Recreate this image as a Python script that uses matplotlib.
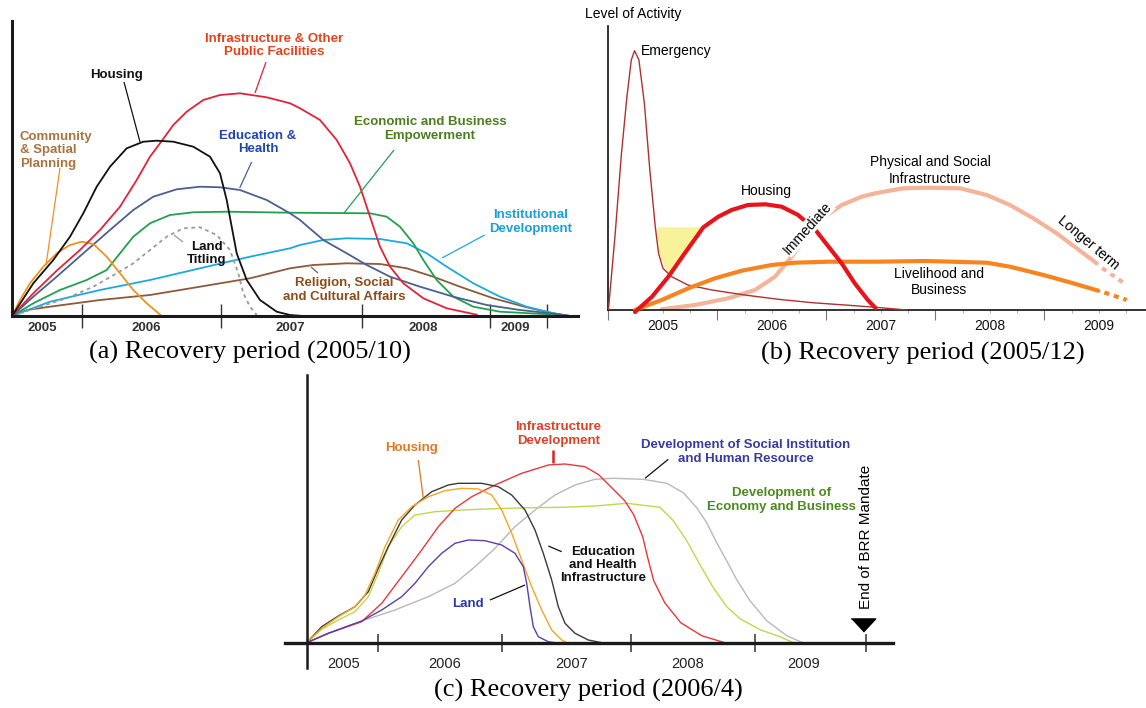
import numpy as np
import matplotlib.pyplot as plt

plt.rcParams['font.family'] = ['Liberation Sans', 'DejaVu Sans']
plt.rcParams['lines.solid_joinstyle'] = 'round'

W, H = 1146, 708

# ---------------- panel (a): recovery period 2005/10 ----------------
a_tick_pos = [70, 209, 350, 478, 535]
a_year_pos = [30, 134, 278, 411, 503]
a_years = ['2005', '2006', '2007', '2008', '2009']

a_infra_x = [0, 21.3, 44.7, 68, 88, 108, 124.7, 138, 149.7, 161.3, 174.7, 191.3, 208, 228, 254.7, 278,
             288, 308, 324.7, 338, 348, 354.7, 361.3, 368, 378, 391.3, 411.3, 434.7, 464.7]
a_infra_y = [0, 22.7, 45.3, 66, 86, 109.3, 136, 159.3, 175, 191, 204.3, 216, 221, 222.7, 218.7, 212.7,
             207.7, 196, 176, 152.7, 129.3, 109.3, 89.3, 69.3, 49.3, 32.7, 17.7, 7.7, 1.3]
a_house_x = [0, 21.3, 41.3, 58, 71.3, 84.7, 98, 114.7, 131.3, 144.7, 161.3, 181.3, 198, 208, 214.7,
             219.7, 224.7, 234.7, 248, 264.7, 278, 291]
a_house_y = [0, 32.7, 56, 79.3, 102.7, 129.3, 149.3, 167.7, 174.3, 175.3, 174.3, 169.3, 159.3, 142.7, 116,
             89.3, 62.7, 36, 16, 4.3, 1, 0]
a_edu_x = [0, 21.3, 44.7, 71.3, 98, 121.3, 141.3, 164.7, 188, 208, 228, 254.7, 278, 288, 311.3, 334.7,
           354.7, 378, 408, 441.3, 474.7, 508, 544.7, 558]
a_edu_y = [0, 19.3, 39.3, 62.7, 86, 106, 119.3, 126.7, 129.3, 128.7, 126, 116, 102.7, 96, 76, 62.7,
           51, 39.3, 29.3, 19.3, 11, 6, 2, 0]
a_econ_x = [0, 21.3, 48, 74.7, 94.7, 108, 121.3, 138, 158, 181.3, 214.7, 278, 358, 374.7, 388, 401.3,
            411.3, 424.7, 441.3, 461.3, 488, 518, 544.7, 558]
a_econ_y = [0, 12.7, 26, 36, 46, 62.7, 79.3, 92.7, 101, 103.7, 104.3, 103.3, 102.7, 99.3, 89.3, 72.7,
            56, 36, 19.3, 9.3, 4.3, 2.7, 1.3, 0]
a_inst_x = [0, 38, 88, 138, 188, 238, 278, 288, 311.3, 334.7, 368, 394.7, 414.7, 434.7, 461.3, 488,
            514.7, 541.3, 558]
a_inst_y = [0, 14.3, 26, 36, 47.7, 59.3, 67.7, 71, 76, 77.7, 77, 72.7, 62.7, 49.3, 32.7, 19.3,
            9.3, 2.7, 0]
a_relig_x = [0, 15, 38, 88, 138, 188, 238, 278, 301.3, 334.7, 368, 394.7, 421.3, 448, 481.3, 514.7, 541.3, 558]
a_relig_y = [0, 6, 9.3, 16, 21, 29.3, 37.7, 47.7, 51, 52.7, 52, 47.7, 39.3, 29.3, 17.7, 8.7, 2.7, 0]
a_comm_x = [0, 8, 18, 31.3, 44.7, 58, 69.7, 81.3, 94.7, 108, 121.3, 134.7, 149.7]
a_comm_y = [0, 16, 32.7, 49.3, 62.7, 71, 74.3, 72, 59.3, 42.7, 26, 12.7, 0]
a_land_x = [0, 28, 54.7, 81.3, 104.7, 121.3, 138, 154.7, 171.3, 188, 204.7, 218, 226.3, 231.3, 238, 244.7]
a_land_y = [0, 9.3, 17.7, 29.3, 42.7, 52.7, 66, 79.3, 87.7, 88.7, 81, 66, 42.7, 22.7, 9.3, 1]

# ---------------- panel (b): recovery period 2005/12 ----------------
b_years = [2005, 2006, 2007, 2008, 2009]
b_emerg_year = [2005.0, 2005.06, 2005.12, 2005.17, 2005.21, 2005.24, 2005.28, 2005.33, 2005.38, 2005.43,
                2005.46, 2005.50, 2005.58, 2005.73, 2005.95, 2006.25, 2006.56, 2006.87, 2007.17, 2007.45, 2007.74]
b_emerg_lvl = [0, 73.3, 156.7, 213.3, 250, 259.3, 250, 206.7, 140, 83.3,
               56.7, 41.7, 33.3, 25, 20, 15, 10.7, 7.3, 5, 2.7, 0]
b_house_year = [2005.244, 2005.40, 2005.55, 2005.70, 2005.871, 2006.008, 2006.13, 2006.28, 2006.44,
                2006.59, 2006.74, 2006.90, 2007.02, 2007.14, 2007.26, 2007.38, 2007.45]
b_house_lvl = [-2, 13.3, 33.3, 56.7, 82.7, 93.3, 100, 105, 105.7, 103.3, 95, 80, 63.3, 46.7, 26.7, 10, 2]
b_phys_year = [2005.489, 2005.794, 2006.100, 2006.345, 2006.528, 2006.682, 2006.834, 2006.987, 2007.140,
               2007.324, 2007.446, 2007.706, 2007.920, 2008.226, 2008.471, 2008.684, 2008.898, 2009.113,
               2009.296, 2009.480]
b_phys_lvl = [0.7, 5, 11.7, 20, 33.3, 53.3, 76.7, 93.3, 105, 113.3, 116.7, 121.7, 122.3, 121.7, 115, 105,
              91.7, 76.7, 61.7, 46.7]
b_phys_dash_year = [2009.53, 2009.755]
b_phys_dash_lvl = [42, 25]
b_live_year = [2005.244, 2005.489, 2005.733, 2005.978, 2006.223, 2006.498, 2006.712, 2007.017, 2007.446,
               2007.920, 2008.471, 2008.684, 2008.990, 2009.265, 2009.494]
b_live_lvl = [0, 10, 21.7, 31.7, 39.3, 45, 47.3, 48.3, 48.3, 49, 47.3, 43.3, 35, 26.7, 19.3]
b_live_dash_year = [2009.55, 2009.755]
b_live_dash_lvl = [17.5, 10]
b_gap_year = [2005.443, 2005.871, 2005.70, 2005.544, 2005.465]
b_gap_lvl = [82.7, 82.7, 56.7, 36.7, 56.7]

# ---------------- panel (c): recovery period 2006/4 ----------------
c_tick_pos = [71.6, 195, 324.3, 448.3, 559]
c_year_pos = [37, 138.3, 264.8, 380.9, 497.3]
c_years = ['2005', '2006', '2007', '2008', '2009']

c_house_x = [0, 15, 31.6, 48.3, 58.3, 68.3, 78.3, 91.6, 105, 121.6, 138.3, 155, 171.6, 185, 195, 205,
             215, 225, 235, 245, 255, 260]
c_house_y = [0, 14.3, 26, 36, 47.7, 69.4, 96, 122.7, 136, 146, 152, 154.4, 153.7, 147.7, 132.7, 109.4,
             82.7, 56, 32.7, 12.7, 2.7, 0]
c_edu_x = [0, 15, 31.6, 48.3, 61.6, 71.6, 81.6, 95, 108.3, 125, 141.6, 151.6, 175, 191.6, 205, 218.3,
           228.3, 236.6, 245, 251.6, 258.3, 268.3, 281.6, 295]
c_edu_y = [0, 16, 26.7, 36, 51, 74.4, 96, 122.7, 137.7, 151, 157.7, 159.4, 159.4, 156, 147.7, 132.7,
           112.7, 89.4, 62.7, 36, 19.4, 9.4, 2.7, 0]
c_econ_x = [0, 15, 31.6, 48.3, 61.6, 71.6, 81.6, 95, 108.3, 128.3, 155, 188.3, 221.6, 255, 288.3, 320,
            353.3, 366.6, 380, 393.3, 406.6, 420, 433.3, 453.3, 473.3, 486.6]
c_econ_y = [0, 13.4, 22.7, 31, 46, 69.4, 96, 116, 127.7, 131, 132.7, 134, 135, 135.4, 136.7, 139.4,
            135.4, 122, 102, 78, 55, 36, 24, 13, 6, 0]
c_infra_x = [0, 21.6, 55, 75, 95, 115, 131.6, 148.3, 165, 188.3, 215, 241.6, 258.3, 278.3, 292, 310,
             318, 327, 336, 341, 347, 358, 374, 395, 418]
c_infra_y = [0, 9.4, 21, 39.4, 66, 92.7, 116, 134.4, 146, 157.7, 169.4, 177.7, 178.7, 176, 168, 150,
             142, 128, 106, 85, 62, 40, 20, 7, 0]
c_social_x = [0, 21.6, 55, 88.3, 121.6, 148.3, 168.3, 188.3, 208.3, 228.3, 248.3, 268.3, 288.3, 306.6,
              336.6, 360, 376.6, 390, 400, 410, 420, 430, 443.3, 460, 480, 496]
c_social_y = [0, 9.4, 21.7, 32.7, 46, 59.4, 76, 94.4, 116, 132.7, 147.7, 157.7, 163.4, 164.4,
              163.4, 159.4, 150, 135, 120, 100, 82, 63, 42, 22, 7, 0]
c_land_x = [0, 21.6, 55, 75, 95, 108.3, 121.6, 135, 148.3, 161.6, 178.3, 195, 208.3, 216.6, 220, 223.3,
            226.6, 231.6, 241.6, 248.3]
c_land_y = [0, 9.4, 21.7, 32.7, 46, 59.4, 76, 89.4, 99.4, 102.7, 102, 97.7, 89.4, 76, 59.4, 36,
            16, 6, 1, 0]
c_mandate_x = [556]
c_mandate_y = [17.7]

fig = plt.figure(figsize=(W / 100, H / 100), dpi=100)


def px_axes(left, top, right, bottom):
    ax = fig.add_axes([left / W, 1 - bottom / H, (right - left) / W, (bottom - top) / H])
    ax.set_facecolor('none')
    for s in ('top', 'right'):
        ax.spines[s].set_visible(False)
    ax.set_yticks([])
    return ax


def leader(ax, p0, p1, color, lw=0.9):
    ax.plot([p0[0], p1[0]], [p0[1], p1[1]], color=color, lw=lw, solid_capstyle='butt')


bold = dict(fontsize=9.5, fontweight='bold', ha='center', va='center', linespacing=1.15)
plain = dict(fontsize=10, ha='center', va='center', linespacing=1.25)

# ======================= (a) =======================
ax = px_axes(12, 21, 578, 316)
ax.set_xlim(0, 566)
ax.set_ylim(0, 295)
for s in ('left', 'bottom'):
    ax.spines[s].set_linewidth(2.2)
    ax.spines[s].set_color('#1a1a1a')
ax.set_xticks(a_tick_pos, [''] * len(a_tick_pos))
ax.set_xticks(a_year_pos, a_years, minor=True)
ax.tick_params(axis='x', which='major', direction='inout', length=17, width=1, color='#333333')
ax.tick_params(axis='x', which='minor', length=0, pad=4, labelsize=9.5, labelcolor='#333333')
for t in ax.get_xticklabels(minor=True):
    t.set_fontweight('bold')

lw_a = 1.3
ax.plot(a_relig_x, a_relig_y, color='#8c5a3c', lw=lw_a)
ax.plot(a_inst_x, a_inst_y, color='#1ea8e0', lw=lw_a)
ax.plot(a_land_x, a_land_y, color='#9a9a9a', lw=1.3, ls=(0, (2, 2)))
ax.plot(a_econ_x, a_econ_y, color='#22a050', lw=lw_a)
ax.plot(a_edu_x, a_edu_y, color='#4a6090', lw=lw_a)
ax.plot(a_comm_x, a_comm_y, color='#f0921e', lw=lw_a)
ax.plot(a_infra_x, a_infra_y, color='#e0243a', lw=lw_a)
ax.plot(a_house_x, a_house_y, color='#111111', lw=lw_a)

ax.text(262, 270.5, 'Infrastructure & Other\nPublic Facilities', color='#e8401c', **bold)
leader(ax, (254, 254), (243, 223), '#e0243a')
ax.text(104.5, 241, 'Housing', color='#111111', **bold)
leader(ax, (112, 234), (128, 174), '#111111')
ax.text(8, 165.5, 'Community\n& Spatial\nPlanning', color='#a87440',
        **{**bold, 'ha': 'left'})
leader(ax, (48, 148), (34, 51), '#f0921e')
ax.text(246, 173.5, 'Education &\nHealth', color='#1f45b0', **bold)
leader(ax, (239.6, 154), (227.7, 128), '#4a6090')
ax.text(418, 187, 'Economic and Business\nEmpowerment', color='#4a7f1e', **bold)
leader(ax, (382, 166), (332, 103), '#22a050')
ax.text(519, 94, 'Institutional\nDevelopment', color='#1a9fd8', **bold)
leader(ax, (472.7, 81), (430, 58), '#1ea8e0')
ax.text(195, 62.5, 'Land\nTitling', color='#111111', **bold)
leader(ax, (171, 74), (162, 81), '#9a9a9a')
ax.text(332, 26, 'Religion, Social\nand Cultural Affairs', color='#8a4e1e', **bold)
leader(ax, (306, 43), (299, 49), '#8c5a3c')

# ======================= (b) =======================
ax = px_axes(608.4, 26, 1146, 310)
ax.set_xlim(2005, 2005 + 537.6 / 109)
ax.set_ylim(0, 284)
for s in ('left', 'bottom'):
    ax.spines[s].set_linewidth(1.2)
    ax.spines[s].set_color('#111111')
quarters = np.arange(2005.25, 2010, 0.25)
quarters = quarters[quarters % 1 != 0]
ax.set_xticks(b_years, [''] * len(b_years))
ax.set_xticks(quarters, [str(int(q)) if q % 1 == 0.5 else '' for q in quarters], minor=True)
ax.tick_params(axis='x', which='major', direction='out', length=7, width=0.8, color='#777777')
ax.tick_params(axis='x', which='minor', direction='out', length=2.5, width=0.6, color='#999999',
               pad=4, labelsize=10, labelcolor='#111111')

ax.fill(b_gap_year, b_gap_lvl, color='#f8f29a', lw=0, zorder=1)
ax.plot(b_emerg_year, b_emerg_lvl, color='#b03030', lw=1.0, zorder=3)
ax.plot(b_phys_year, b_phys_lvl, color='#f5b49a', lw=3, solid_capstyle='round', zorder=2)
ax.plot(b_phys_dash_year, b_phys_dash_lvl, color='#f5b49a', lw=3, ls=(0, (1.2, 1.2)), zorder=2)
ax.plot(b_live_year, b_live_lvl, color='#f7841f', lw=3, solid_capstyle='round', zorder=3)
ax.plot(b_live_dash_year, b_live_dash_lvl, color='#f7841f', lw=3, ls=(0, (1.2, 1.2)), zorder=3)
ax.plot(b_house_year, b_house_lvl, color='#e8141c', lw=3, solid_capstyle='round', zorder=4,
        clip_on=False)

ax.text(2005.30, 259.5, 'Emergency', **{**plain, 'ha': 'left'})
ax.text(2006.453, 119, 'Housing', **plain)
ax.text(2006.831, 82, 'Immediate', rotation=48, zorder=5,
        bbox=dict(boxstyle='square,pad=0.05', fc='white', ec='none'), **plain)
ax.text(2007.95, 139.5, 'Physical and Social\nInfrastructure', **plain)
ax.text(2009.40, 67, 'Longer term', rotation=-40, zorder=5,
        bbox=dict(boxstyle='square,pad=0.05', fc='white', ec='none'), **plain)
ax.text(2008.03, 28, 'Livelihood and\nBusiness', zorder=5,
        bbox=dict(boxstyle='square,pad=0.1', fc='white', ec='none'), **plain)
fig.text(585 / W, 1 - 14 / H, 'Level of Activity', fontsize=10, ha='left', va='center')

# ======================= (c) =======================
ax = px_axes(284.7, 375, 893, 668)
ax.set_xlim(-22, 586.3)
ax.set_ylim(-25.3, 267.7)
ax.spines['left'].set_position(('data', 0))
ax.spines['bottom'].set_position(('data', 0))
ax.spines['left'].set_linewidth(1.8)
ax.spines['bottom'].set_linewidth(2.4)
ax.spines['left'].set_color('#1a1a1a')
ax.spines['bottom'].set_color('#1a1a1a')
ax.set_xticks(c_tick_pos, [''] * len(c_tick_pos))
ax.set_xticks(c_year_pos, c_years, minor=True)
ax.tick_params(axis='x', which='major', direction='inout', length=13, width=1.1, color='#333333')
ax.tick_params(axis='x', which='minor', length=0, pad=10, labelsize=10.5, labelcolor='#222222')

lw_c = 1.0
ax.plot(c_social_x, c_social_y, color='#b9b9b9', lw=lw_c)
ax.plot(c_econ_x, c_econ_y, color='#c2d64a', lw=lw_c)
ax.plot(c_infra_x, c_infra_y, color='#e8383c', lw=lw_c)
ax.plot(c_edu_x, c_edu_y, color='#3a3a3a', lw=lw_c)
ax.plot(c_house_x, c_house_y, color='#f5a623', lw=lw_c)
ax.plot(c_land_x, c_land_y, color='#5a3fae', lw=lw_c)
ax.plot(c_mandate_x, c_mandate_y, ls='none', color='black', markersize=17.5,
        marker=[(-1, 0.54), (1, 0.54), (0, -0.54)], clip_on=False)

ax.text(105, 194.4, 'Housing', color='#e07820', **bold)
leader(ax, (111.6, 182.7), (116.6, 144.4), '#e07820')
ax.text(251.6, 208.7, 'Infrastructure\nDevelopment', color='#e0402a', **bold)
leader(ax, (246.6, 192.7), (246.6, 179.4), '#e02020', lw=1.8)
ax.text(439, 190.7, 'Development of Social Institution\nand Human Resource', color='#3a3aa0', **bold)
leader(ax, (361.6, 183.4), (338.3, 164.4), '#111111')
ax.text(475, 142.7, 'Development of\nEconomy and Business', color='#4c8a1c', **bold)
ax.text(296.3, 77.7, 'Education\nand Health\nInfrastructure', color='#111111', **bold)
leader(ax, (255, 91), (241.6, 96.7), '#111111')
ax.text(161.6, 38.4, 'Land', color='#2a3aa8', **bold)
leader(ax, (183.3, 42.7), (218.3, 57.7), '#111111')
ax.text(559, 106, 'End of BRR Mandate', rotation=90, fontsize=11, ha='center', va='center',
        bbox=dict(boxstyle='square,pad=0.1', fc='white', ec='none'))

# ======================= captions =======================
cap = dict(fontsize=19, family='Liberation Serif', ha='center', va='center')
fig.text(250 / W, 1 - 352 / H, '(a) Recovery period (2005/10)', **cap)
fig.text(923 / W, 1 - 353 / H, '(b) Recovery period (2005/12)', **cap)
fig.text(588 / W, 1 - 690 / H, '(c) Recovery period (2006/4)', **cap)

fig.savefig('out.png', dpi=100)
